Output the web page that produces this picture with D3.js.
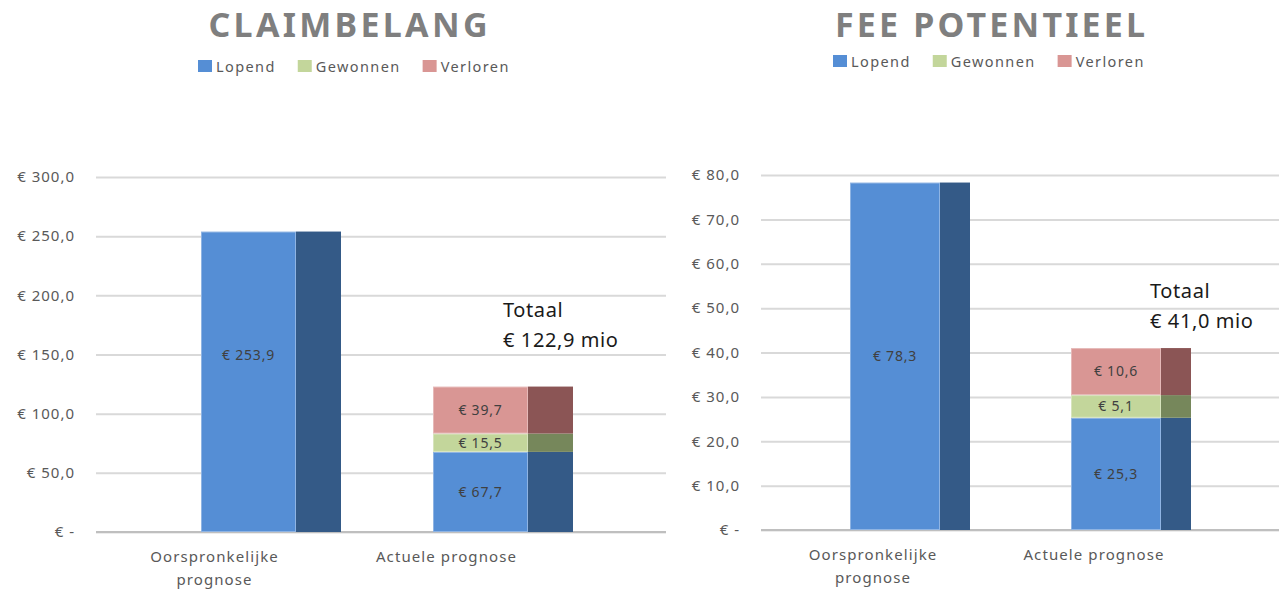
<!DOCTYPE html>
<html>
<head>
<meta charset="utf-8">
<script src="https://cdnjs.cloudflare.com/ajax/libs/d3/7.8.5/d3.min.js"></script>
<style>
  body { margin: 0; background: #fff; }
  svg { display: block; font-family: "Noto Sans", sans-serif; }
  .tick line { stroke: #d9d9d9; stroke-width: 2; }
  .tick text { fill: #595959; font-size: 15px; letter-spacing: 1px; }
</style>
</head>
<body>
<div id="chart"></div>
<script>
'use strict';

// Data
var categories = ['Oorspronkelijke prognose', 'Actuele prognose'];
var seriesNames = ['Lopend', 'Gewonnen', 'Verloren'];

var claimLopend = [253.9, 67.7];
var claimGewonnen = [0, 15.5];
var claimVerloren = [0, 39.7];
var claimTicks = [0, 50, 100, 150, 200, 250, 300];

var feeLopend = [78.3, 25.3];
var feeGewonnen = [0, 5.1];
var feeVerloren = [0, 10.6];
var feeTicks = [0, 10, 20, 30, 40, 50, 60, 70, 80];

var frontColors = ['#558ed5', '#c3d69b', '#d99694'];
var sideColors = ['#345a87', '#76875b', '#8b5555'];
var edgeColors = ['#8fb4e3', '#d7e4bd', '#e6b9b8'];

var W = 1282, H = 591;

var svg = d3.select('#chart').append('svg')
  .attr('width', W)
  .attr('height', H);

var fmtNum = function(v) {
  return v.toFixed(1).replace('.', ',');
};
var fmtTick = function(v) {
  return v === 0 ? '€ -' : '€ ' + fmtNum(v);
};

function drawChart(opt) {
  var g = svg.append('g');

  // Title
  g.append('text')
    .attr('x', opt.titleX)
    .attr('y', 37)
    .attr('text-anchor', 'middle')
    .attr('textLength', opt.titleW)
    .attr('lengthAdjust', 'spacing')
    .style('font-size', '34px')
    .style('font-weight', 'bold')
    .style('fill', '#7f7f7f')
    .text(opt.title);

  // Legend
  var lx = opt.legendX;
  seriesNames.forEach(function(name, i) {
    g.append('rect')
      .attr('x', lx)
      .attr('y', opt.legendY - 12)
      .attr('width', 14)
      .attr('height', 12)
      .attr('fill', frontColors[i]);
    var t = g.append('text')
      .attr('x', lx + 18)
      .attr('y', opt.legendY)
      .style('font-size', '14.5px')
      .style('letter-spacing', '1.4px')
      .style('fill', '#595959')
      .text(name);
    lx += 18 + t.node().getComputedTextLength() + 22;
  });

  // Scales
  var yScale = d3.scaleLinear()
    .domain([0, opt.yMax])
    .range([opt.y0, opt.y1]);

  var xScale = d3.scaleBand()
    .domain(categories)
    .range([opt.barStart, opt.barStart + opt.step + opt.front])
    .paddingInner(1 - opt.front / opt.step)
    .paddingOuter(0);

  // Y axis with gridlines
  var yAxis = d3.axisLeft(yScale)
    .tickValues(opt.ticks)
    .tickFormat(fmtTick)
    .tickSizeInner(-(opt.x1 - opt.x0))
    .tickSizeOuter(0)
    .tickPadding(opt.tickPad);

  var ya = g.append('g')
    .attr('class', 'y axis')
    .attr('transform', 'translate(' + opt.x0 + ',0)')
    .call(yAxis);
  ya.select('.domain').remove();
  ya.attr('font-family', null).attr('font-size', null);

  // Baseline
  g.append('line')
    .attr('x1', opt.x0).attr('x2', opt.x1)
    .attr('y1', yScale(0)).attr('y2', yScale(0))
    .attr('stroke', '#bfbfbf')
    .attr('stroke-width', 2);

  // Stack
  var rows = categories.map(function(c, i) {
    return { cat: c, Lopend: opt.series[0][i], Gewonnen: opt.series[1][i], Verloren: opt.series[2][i] };
  });
  var stacked = d3.stack().keys(seriesNames)(rows);

  stacked.forEach(function(layer, si) {
    var lg = g.append('g').attr('class', 'bars');
    layer.forEach(function(d) {
      if (d[1] - d[0] <= 0) return;
      var x = xScale(d.data.cat);
      var yTop = yScale(d[1]);
      var hgt = yScale(d[0]) - yScale(d[1]);
      lg.append('rect')
        .attr('x', x + 0.5)
        .attr('y', yTop + 0.5)
        .attr('width', xScale.bandwidth() - 1)
        .attr('height', hgt - 1)
        .attr('fill', frontColors[si])
        .attr('stroke', edgeColors[si])
        .attr('stroke-width', 1);
      lg.append('rect')
        .attr('x', x + xScale.bandwidth())
        .attr('y', yTop)
        .attr('width', opt.depth)
        .attr('height', hgt)
        .attr('fill', sideColors[si]);
    });
  });

  // Value labels
  stacked.forEach(function(layer, si) {
    layer.forEach(function(d, ci) {
      var v = d[1] - d[0];
      if (v <= 0) return;
      var frac = (si === 0 && ci === 0) ? opt.firstLabelFrac : 0.5;
      g.append('text')
        .attr('x', xScale(d.data.cat) + xScale.bandwidth() / 2)
        .attr('y', yScale(d[0] + v * frac))
        .attr('dy', '0.35em')
        .attr('text-anchor', 'middle')
        .style('font-size', '14px')
        .style('letter-spacing', '0.8px')
        .style('fill', '#404040')
        .text('€ ' + fmtNum(v));
    });
  });

  // Category labels
  categories.forEach(function(c) {
    var cx = xScale(c) + xScale.bandwidth() / 2 + opt.catShift;
    var words = c.split(' ');
    var lines = c.length > 18 ? [words[0], words.slice(1).join(' ')] : [c];
    var t = g.append('text')
      .attr('x', cx)
      .attr('y', opt.y0 + 30)
      .attr('text-anchor', 'middle')
      .style('font-size', '15px')
      .style('letter-spacing', '1.1px')
      .style('fill', '#595959');
    lines.forEach(function(l, i) {
      t.append('tspan')
        .attr('x', cx)
        .attr('dy', i === 0 ? 0 : 23)
        .text(l);
    });
  });

  // Total annotation
  var last = categories[categories.length - 1];
  var total = d3.sum(opt.series, function(s) { return s[s.length - 1]; });
  var tx = xScale(last) + opt.totalDx;
  var tt = g.append('text')
    .attr('x', tx)
    .attr('y', yScale(total) + opt.totalDy)
    .style('font-size', '20px')
    .style('letter-spacing', '0.6px')
    .style('fill', '#1a1a1a');
  tt.append('tspan').attr('x', tx).text('Totaal');
  tt.append('tspan').attr('x', tx).attr('dy', 30).text('€ ' + fmtNum(total) + ' mio');
}

drawChart({
  title: 'CLAIMBELANG', titleX: 348, titleW: 279,
  legendX: 198, legendY: 72,
  series: [claimLopend, claimGewonnen, claimVerloren],
  ticks: claimTicks, yMax: 300,
  x0: 96, x1: 666, y0: 532, y1: 177, tickPad: 21,
  barStart: 201, step: 232, front: 95, depth: 45,
  catShift: -34, firstLabelFrac: 0.59,
  totalDx: 70, totalDy: -70
});

drawChart({
  title: 'FEE POTENTIEEL', titleX: 990, titleW: 310,
  legendX: 833, legendY: 67,
  series: [feeLopend, feeGewonnen, feeVerloren],
  ticks: feeTicks, yMax: 80,
  x0: 761, x1: 1279, y0: 530, y1: 175, tickPad: 21,
  barStart: 850, step: 221, front: 90, depth: 30,
  catShift: -22, firstLabelFrac: 0.5,
  totalDx: 79, totalDy: -50
});
</script>
</body>
</html>
